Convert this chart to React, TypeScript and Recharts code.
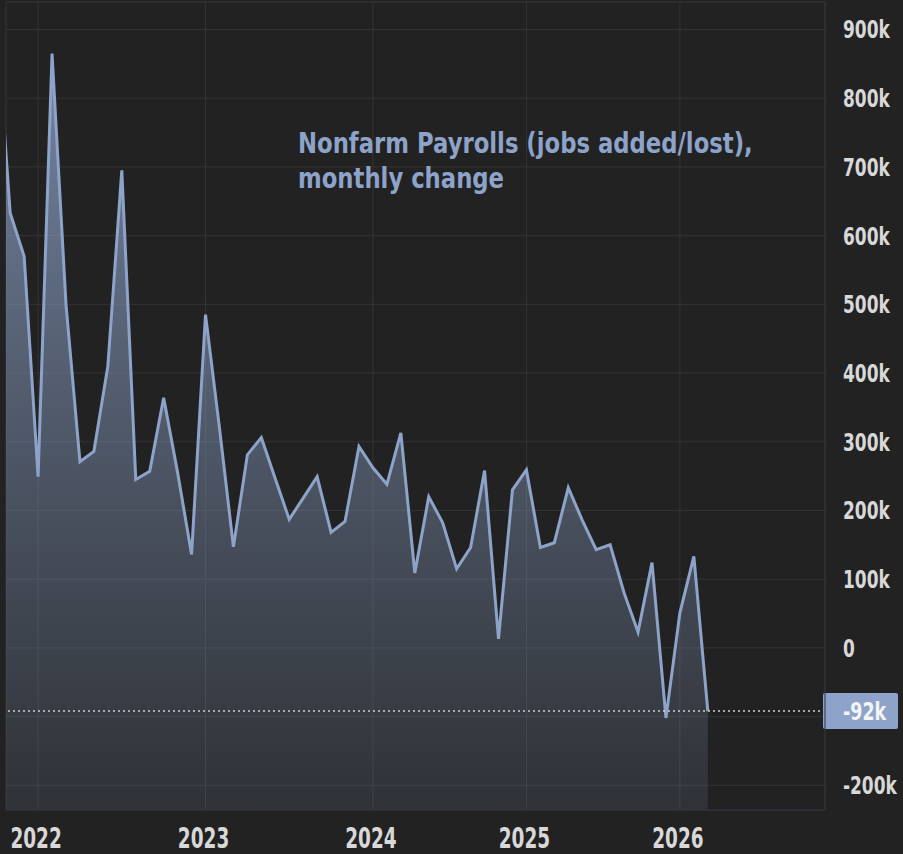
import React from "react";
import {
  Area,
  AreaChart,
  CartesianGrid,
  ReferenceLine,
  XAxis,
  YAxis
} from "recharts";

// month index, 0 = Jan 2022
const months: number[] = [
  -3, -2, -1, 0, 1, 2, 3, 4, 5, 6, 7, 8, 9, 10, 11, 12, 13, 14, 15, 16, 17, 18,
  19, 20, 21, 22, 23, 24, 25, 26, 27, 28, 29, 30, 31, 32, 33, 34, 35, 36, 37,
  38, 39, 40, 41, 42, 43, 44, 45, 46, 47, 48
];

// jobs added/lost, thousands
const payrolls: number[] = [
  920, 633, 570, 249, 865, 500, 271, 286, 410, 695, 245, 257, 364, 255, 136,
  485, 320, 147, 281, 306, 246, 187, 218, 249, 168, 184, 293, 262, 238, 313,
  109, 220, 182, 115, 146, 258, 13, 230, 259, 146, 153, 233, 186, 143, 150, 80,
  23, 124, -102, 51, 133, -92
];

const yearTicks: number[] = [0, 12, 24, 35, 46];
const yearLabels: string[] = ["2022", "2023", "2024", "2025", "2026"];

const valueTicks: number[] = [
  -200000, -100000, 0, 100000, 200000, 300000, 400000, 500000, 600000, 700000,
  800000, 900000
];

const latestValue = -92000;
const latestLabel = "-92k";

const data = months.map((m, i) => ({ month: m, jobs: payrolls[i] * 1000 }));

const FONT = "'DejaVu Sans', Verdana, sans-serif";
const LINE = "#8da3c9";
const TEXT = "#d8d8d8";

const fmtValue = (v: number) => {
  if (v === 0) return "0";
  if (v === -100000) return "";
  return `${v / 1000}k`;
};

const YTick = (props: any) => {
  const { x, y, payload } = props;
  const label = fmtValue(payload.value);
  if (!label) return null;
  return (
    <g transform={`translate(${x + 18},${y}) scale(0.68,1)`}>
      <text
        x={0}
        y={0}
        dy="0.36em"
        textAnchor="start"
        fill={TEXT}
        fontSize={25}
        fontWeight="bold"
        fontFamily={FONT}
      >
        {label}
      </text>
    </g>
  );
};

const XTick = (props: any) => {
  const { x, y, payload } = props;
  const idx = yearTicks.indexOf(payload.value);
  return (
    <g transform={`translate(${x - 2},${y + 38}) scale(0.66,1)`}>
      <text
        x={0}
        y={0}
        textAnchor="middle"
        fill={TEXT}
        fontSize={28}
        fontWeight="bold"
        fontFamily={FONT}
      >
        {yearLabels[idx]}
      </text>
    </g>
  );
};

const renderLatest = (props: any) => {
  const vb = props.viewBox || {};
  const right = vb.x + vb.width;
  const cy = vb.y;
  return (
    <g>
      <rect x={right - 2} y={cy - 18} width={75} height={36} rx={2} fill={LINE} />
      <g transform={`translate(${right + 18},${cy}) scale(0.7,1)`}>
        <text
          x={0}
          y={0}
          dy="0.36em"
          fill="#f4f4f4"
          fontSize={25}
          fontWeight="bold"
          fontFamily={FONT}
        >
          {latestLabel}
        </text>
      </g>
    </g>
  );
};

export default function App() {
  return (
    <div
      style={{
        position: "absolute",
        left: 0,
        top: 0,
        width: 903,
        height: 854,
        background: "#222222",
        overflow: "hidden"
      }}
    >
      <AreaChart
        width={903}
        height={854}
        data={data}
        margin={{ top: 2, right: 0, bottom: 0, left: 6 }}
      >
        <defs>
          <linearGradient id="fillGrad" x1="0" y1="0" x2="0" y2="1">
            <stop offset="0%" stopColor={LINE} stopOpacity={0.8} />
            <stop offset="40%" stopColor={LINE} stopOpacity={0.5} />
            <stop offset="100%" stopColor={LINE} stopOpacity={0.12} />
          </linearGradient>
        </defs>
        <CartesianGrid stroke="#343434" />
        <XAxis
          dataKey="month"
          type="number"
          domain={[-2.3, 56.4]}
          allowDataOverflow
          ticks={yearTicks}
          tick={<XTick />}
          tickLine={false}
          tickSize={0}
          tickMargin={0}
          height={44}
          axisLine={{ stroke: "#30333f" }}
        />
        <YAxis
          orientation="right"
          type="number"
          domain={[-236000, 940000]}
          allowDataOverflow
          ticks={valueTicks}
          tick={<YTick />}
          tickLine={false}
          tickSize={0}
          tickMargin={0}
          width={78}
          axisLine={{ stroke: "#30333f" }}
        />
        <Area
          type="linear"
          dataKey="jobs"
          stroke={LINE}
          strokeWidth={3}
          fill="url(#fillGrad)"
          fillOpacity={1}
          baseValue="dataMin"
          dot={false}
          activeDot={false}
          isAnimationActive={false}
        />
        <ReferenceLine
          y={latestValue}
          stroke="#cfcfcf"
          strokeWidth={1.5}
          strokeDasharray="2 3"
          label={renderLatest}
        />
      </AreaChart>
      <svg
        width={903}
        height={854}
        style={{ position: "absolute", left: 0, top: 0, pointerEvents: "none" }}
      >
        <g transform="translate(298,153) scale(0.785,1)">
          <text x={0} y={0} fill={LINE} fontSize={29} fontWeight="bold" fontFamily={FONT}>
            Nonfarm Payrolls (jobs added/lost),
          </text>
        </g>
        <g transform="translate(298,188) scale(0.785,1)">
          <text x={0} y={0} fill={LINE} fontSize={29} fontWeight="bold" fontFamily={FONT}>
            monthly change
          </text>
        </g>
      </svg>
    </div>
  );
}
